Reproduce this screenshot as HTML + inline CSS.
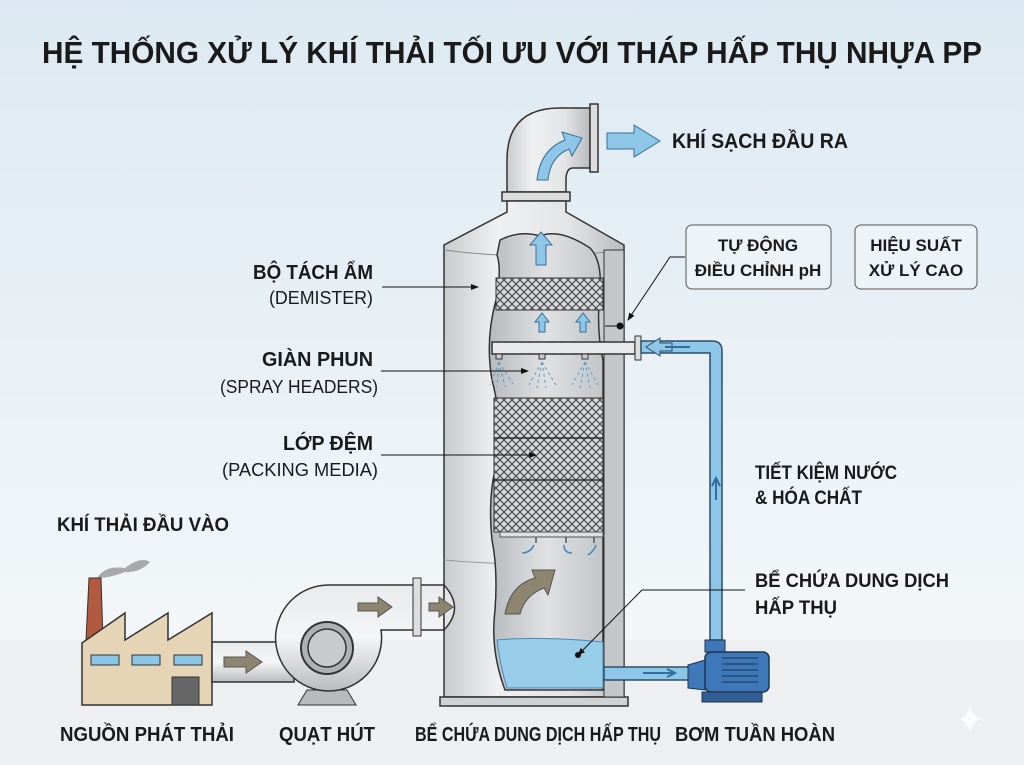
<!DOCTYPE html>
<html><head><meta charset="utf-8"><style>
html,body{margin:0;padding:0;width:1024px;height:765px;overflow:hidden}
svg text{font-family:"Liberation Sans","Noto Sans CJK SC",sans-serif;font-weight:bold;fill:#1a1a1a}
.sm{font-weight:normal}
</style></head><body>
<svg width="1024" height="765" viewBox="0 0 1024 765" xmlns="http://www.w3.org/2000/svg">
<defs>
<linearGradient id="bg" x1="0" y1="0" x2="0" y2="1">
<stop offset="0" stop-color="#dde9f2"/><stop offset="0.8" stop-color="#f2f6f9"/><stop offset="1" stop-color="#f4f5f6"/></linearGradient>
<linearGradient id="metal" x1="0" y1="0" x2="1" y2="0">
<stop offset="0" stop-color="#c9ccce"/><stop offset="0.3" stop-color="#eef0f1"/><stop offset="0.7" stop-color="#e2e4e6"/><stop offset="1" stop-color="#b9bcbf"/></linearGradient>
<linearGradient id="metalv" x1="0" y1="0" x2="0" y2="1">
<stop offset="0" stop-color="#e9ebec"/><stop offset="0.5" stop-color="#f4f5f6"/><stop offset="1" stop-color="#b8bcbf"/></linearGradient>
<linearGradient id="inner" x1="0" y1="0" x2="1" y2="0">
<stop offset="0" stop-color="#b7babd"/><stop offset="0.5" stop-color="#dfe1e3"/><stop offset="1" stop-color="#c2c5c8"/></linearGradient>
<pattern id="mesh" width="8" height="8" patternUnits="userSpaceOnUse">
<rect width="8" height="8" fill="#d6d8da"/><path d="M0 0L8 8M8 0L0 8" stroke="#4a4d50" stroke-width="1.2"/></pattern>
<marker id="ar" markerWidth="8" markerHeight="8" refX="7" refY="4" orient="auto"><path d="M0 1L8 4L0 7z" fill="#111"/></marker>
</defs>
<rect width="1024" height="765" fill="url(#bg)"/>
<rect y="640" width="1024" height="125" fill="#eeeff0"/>

<text x="512" y="63" font-size="31" text-anchor="middle" textLength="940" lengthAdjust="spacingAndGlyphs">HỆ THỐNG XỬ LÝ KHÍ THẢI TỐI ƯU VỚI THÁP HẤP THỤ NHỰA PP</text>

<!-- elbow -->
<path d="M507 192 L507 160 Q507 108 560 108 L590 108 L590 168 L573 168 Q566 168 566 180 L566 192 Z" fill="url(#metal)" stroke="#333" stroke-width="1.5"/>
<rect x="590" y="104" width="8" height="68" fill="#ddd" stroke="#333" stroke-width="1.5"/>
<path d="M537 180 Q540 150 565 140 L562 132 L582 138 L572 156 L569 149 Q550 157 548 180 Z" fill="#8ec6e8" stroke="#3a6f96" stroke-width="1"/>
<path d="M607 133 L634 133 L634 125 L660 141 L634 157 L634 149 L607 149 Z" fill="#8ec6e8" stroke="#3a6f96" stroke-width="1"/>
<text x="672" y="148" font-size="21" textLength="176" lengthAdjust="spacingAndGlyphs">KHÍ SẠCH ĐẦU RA</text>

<!-- tower -->
<rect x="502" y="192" width="68" height="9" fill="#ddd" stroke="#333" stroke-width="1.5"/>
<path d="M507 201 L566 201 L566 212 L624 245 L624 697 L444 697 L444 245 L507 212 Z" fill="url(#metal)" stroke="#333" stroke-width="1.5"/>
<path d="M444 250 Q534 262 624 250" fill="none" stroke="#888" stroke-width="1"/>
<path d="M444 560 Q534 568 624 560" fill="none" stroke="#999" stroke-width="1"/>
<rect x="440" y="697" width="188" height="9" fill="#cfd2d4" stroke="#333" stroke-width="1.5"/>
<rect x="604" y="250" width="20" height="447" fill="#c4c7ca" stroke="#333" stroke-width="1"/>
<!-- cutaway -->
<path d="M500 240 Q520 230 540 236 Q560 228 590 248 Q602 260 600 290 Q596 330 603 360 L603 690 L505 690 Q490 650 495 610 Q498 570 492 540 Q488 500 495 470 Q505 430 492 380 Q485 340 496 300 Q502 270 497 255 Z" fill="url(#inner)" stroke="#333" stroke-width="1.5"/>
<rect x="496" y="278" width="107" height="32" fill="url(#mesh)" stroke="#333"/>
<rect x="494" y="398" width="109" height="134" fill="url(#mesh)" stroke="#333"/>
<line x1="494" y1="438" x2="603" y2="438" stroke="#333" stroke-width="1.5"/>
<line x1="494" y1="480" x2="603" y2="480" stroke="#333" stroke-width="1.5"/>
<rect x="500" y="532" width="103" height="5" fill="#ddd" stroke="#555"/>
<path d="M497 640 Q540 636 603 642 L603 688 L507 688 Q500 665 497 640Z" fill="#97cde8" stroke="#4a88b5"/>
<path d="M536 265 L536 245 L530 245 L541 232 L552 245 L546 245 L546 265Z" fill="#8ec6e8" stroke="#3a6f96"/>
<path d="M539 332 L539 322 L535 322 L542 313 L549 322 L545 322 L545 332Z" fill="#8ec6e8" stroke="#3a6f96"/>
<path d="M580 332 L580 322 L576 322 L583 313 L590 322 L586 322 L586 332Z" fill="#8ec6e8" stroke="#3a6f96"/>
<rect x="492" y="342" width="143" height="12" fill="#e6e8ea" stroke="#333" stroke-width="1.5"/>
<rect x="635" y="336" width="6" height="24" fill="#ddd" stroke="#333"/>
<g fill="#ccc" stroke="#333"><rect x="496" y="354" width="6" height="5"/><rect x="539" y="354" width="6" height="5"/><rect x="582" y="354" width="6" height="5"/></g>
<g stroke="#5a9dc8" stroke-width="1" stroke-dasharray="3 3">
<path d="M499 362 L490 385 M499 362 L497 387 M499 362 L505 387 M499 362 L513 384"/>
<path d="M542 362 L529 385 M542 362 L537 388 M542 362 L546 388 M542 362 L556 385"/>
<path d="M585 362 L572 385 M585 362 L580 388 M585 362 L590 388 M585 362 L598 385"/></g>
<g stroke="#555" fill="none" stroke-width="1.5"><path d="M536 537 v6 M566 537 v6 M594 537 v6"/></g>
<g stroke="#3a88c0" fill="none" stroke-width="1.5"><path d="M534 545 q-4 8 -12 8 M564 545 q0 8 8 8 M596 545 q-2 6 -8 10"/></g>
<path d="M505 614 Q510 585 535 578 L532 570 L555 570 L548 595 L544 588 Q525 595 520 614Z" fill="#8d8570" stroke="#555"/>
<circle cx="620" cy="326" r="3.5" fill="#111"/>
<line x1="605" y1="326" x2="620" y2="326" stroke="#111"/>

<!-- right pipe -->
<path d="M641 341 L712 341 Q722 341 722 351 L722 640 L710 640 L710 353 L641 353Z" fill="#8ec6e8" stroke="#2d4e66" stroke-width="1.5"/>
<path d="M646 347 L660 338 L660 343 L672 343 L672 351 L660 351 L660 356Z" fill="#8ec6e8" stroke="#2d4e66"/>
<path d="M665 347 h25" stroke="#2f6ea0" stroke-width="2"/>
<path d="M716 500 V480 M712 486 L716 478 L720 486" stroke="#2f6ea0" stroke-width="2" fill="none"/>
<path d="M604 667 L700 667 L700 680 L604 680Z" fill="#8ec6e8" stroke="#2d4e66" stroke-width="1.5"/>
<path d="M643 673 h30 M667 669 l8 4 -8 4" stroke="#2f6ea0" stroke-width="2" fill="none"/>
<rect x="705" y="640" width="20" height="12" fill="#3f78b8" stroke="#1d3550"/>
<path d="M688 665 L705 660 L705 690 L688 688Z" fill="#3f78b8" stroke="#1d3550"/>
<rect x="705" y="652" width="64" height="40" rx="6" fill="#3f78b8" stroke="#1d3550" stroke-width="1.5"/>
<g stroke="#1d3550"><path d="M722 658 h36 M722 664 h36 M722 670 h36 M722 676 h36 M722 682 h36"/></g>
<rect x="702" y="692" width="60" height="10" fill="#345f94" stroke="#1d3550"/>

<!-- factory -->
<path d="M97 578 Q105 565 125 568 Q140 556 150 562 Q140 573 125 572 Q110 578 97 578Z" fill="#a7a9ab"/>
<path d="M86 640 L89 578 L101 578 L103 640Z" fill="#b15a40" stroke="#333"/>
<path d="M82 643 L125 613 L125 640 L168 613 L168 640 L212 613 L212 705 L82 705Z" fill="#e6d4b6" stroke="#333" stroke-width="1.5"/>
<g fill="#8cc6e6" stroke="#333"><rect x="91" y="655" width="28" height="10"/><rect x="132" y="655" width="28" height="10"/><rect x="174" y="655" width="28" height="10"/></g>
<rect x="172" y="677" width="27" height="28" fill="#666" stroke="#333"/>
<rect x="212" y="642" width="82" height="40" fill="url(#metalv)" stroke="#333" stroke-width="1.5"/>
<path d="M224 657 h22 v-6 l16 11 -16 11 v-6 h-22z" fill="#8d8570" stroke="#555"/>
<!-- fan -->
<path d="M298 705 L307 690 L347 690 L356 705Z" fill="#b8bbbe" stroke="#333"/>
<path d="M444 585 L330 585 A53 53 0 1 0 381 630 L444 630 Z" fill="url(#metalv)" stroke="#333" stroke-width="1.5"/>
<circle cx="327" cy="648" r="26" fill="#aeb1b3" stroke="#333" stroke-width="2"/>
<circle cx="327" cy="648" r="19" fill="#c8cacc" stroke="#333" stroke-width="1.5"/>
<rect x="413" y="578" width="8" height="58" fill="#ddd" stroke="#333"/>
<path d="M444 585 Q465 608 444 630Z" fill="#e2e4e6" stroke="#333" stroke-width="1.5"/>
<path d="M358 603 h20 v-6 l14 10 -14 10 v-6 h-20z" fill="#8d8570" stroke="#555"/>
<path d="M429 603 h10 v-6 l14 10 -14 10 v-6 h-10z" fill="#8d8570" stroke="#555"/>

<!-- left labels -->
<g font-size="20" text-anchor="end">
<text x="373" y="279" textLength="120" lengthAdjust="spacingAndGlyphs">BỘ TÁCH ẨM</text>
<text x="373" y="366" textLength="111" lengthAdjust="spacingAndGlyphs">GIÀN PHUN</text>
<text x="373" y="450" textLength="90" lengthAdjust="spacingAndGlyphs">LỚP ĐỆM</text></g>
<g font-size="18" text-anchor="end">
<text class="sm" x="373" y="304" textLength="104" lengthAdjust="spacingAndGlyphs">(DEMISTER)</text>
<text class="sm" x="378" y="393" textLength="158" lengthAdjust="spacingAndGlyphs">(SPRAY HEADERS)</text>
<text class="sm" x="378" y="476" textLength="156" lengthAdjust="spacingAndGlyphs">(PACKING MEDIA)</text></g>
<g stroke="#111" stroke-width="1" marker-end="url(#ar)">
<line x1="382" y1="287" x2="478" y2="287"/>
<line x1="381" y1="371" x2="528" y2="371"/>
<line x1="381" y1="455" x2="536" y2="455"/>
<path d="M685 257 L670 257 L628 320" fill="none"/>
<path d="M745 590 L642 590 L578 655" fill="none"/></g>
<circle cx="578" cy="655" r="3" fill="#111"/>

<rect x="686" y="225" width="145" height="64" rx="6" fill="#eef3f7" stroke="#555"/>
<rect x="855" y="225" width="122" height="64" rx="6" fill="#eef3f7" stroke="#555"/>
<g font-size="17" text-anchor="middle">
<text x="758" y="251">TỰ ĐỘNG</text><text x="758" y="276">ĐIỀU CHỈNH pH</text>
<text x="916" y="251">HIỆU SUẤT</text><text x="916" y="276">XỬ LÝ CAO</text></g>

<g font-size="19">
<text x="755" y="479" textLength="142" lengthAdjust="spacingAndGlyphs">TIẾT KIỆM NƯỚC</text>
<text x="755" y="504" textLength="107" lengthAdjust="spacingAndGlyphs">&amp; HÓA CHẤT</text>
<text x="755" y="587" textLength="194" lengthAdjust="spacingAndGlyphs">BỂ CHỨA DUNG DỊCH</text>
<text x="755" y="614" textLength="82" lengthAdjust="spacingAndGlyphs">HẤP THỤ</text>
<text x="57" y="531" textLength="172" lengthAdjust="spacingAndGlyphs">KHÍ THẢI ĐẦU VÀO</text></g>
<g font-size="20" text-anchor="middle">
<text x="147" y="741" textLength="174" lengthAdjust="spacingAndGlyphs">NGUỒN PHÁT THẢI</text>
<text x="327" y="741" textLength="96" lengthAdjust="spacingAndGlyphs">QUẠT HÚT</text>
<text x="538" y="741" textLength="246" lengthAdjust="spacingAndGlyphs">BỂ CHỨA DUNG DỊCH HẤP THỤ</text>
<text x="755" y="741" textLength="160" lengthAdjust="spacingAndGlyphs">BƠM TUẦN HOÀN</text></g>
<path d="M970 705 Q972 717 982 719 Q972 721 970 733 Q968 721 958 719 Q968 717 970 705Z" fill="#fff" opacity="0.8"/>
</svg>
</body></html>
